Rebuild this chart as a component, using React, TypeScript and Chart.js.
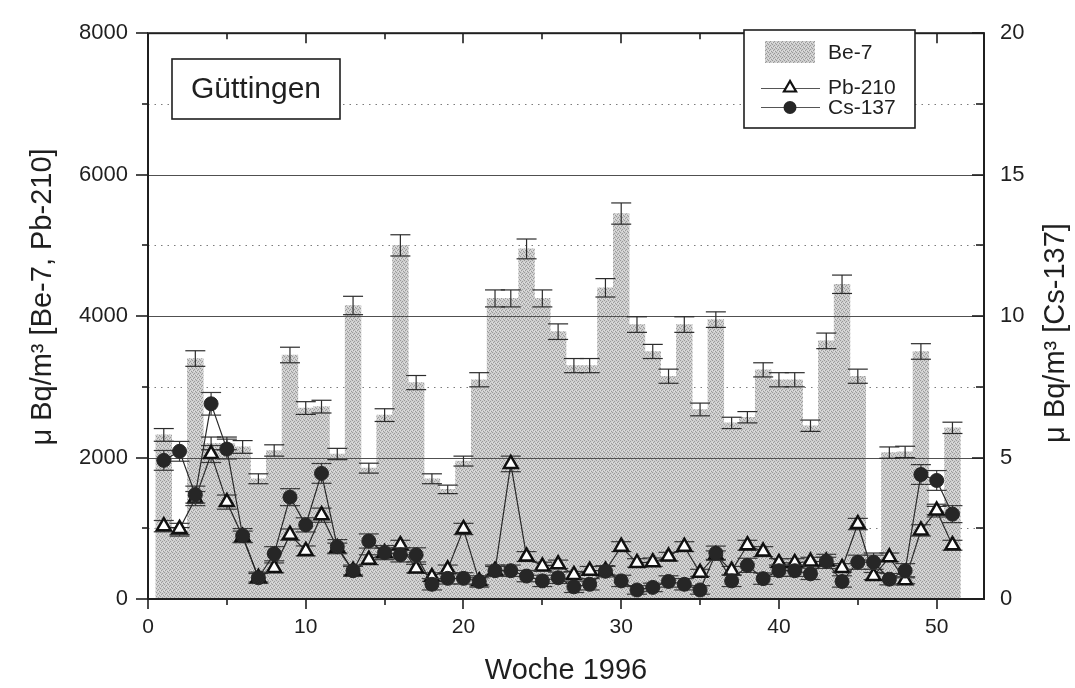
import React, { useEffect, useRef } from 'react';
import { Chart, registerables } from 'chart.js';

Chart.register(...registerables);

// ---------- data ----------
const weeks = [
  1, 2, 3, 4, 5, 6, 7, 8, 9, 10, 11, 12, 13, 14, 15, 16, 17, 18, 19, 20, 21, 22, 23, 24, 25,
  26, 27, 28, 29, 30, 31, 32, 33, 34, 35, 36, 37, 38, 39, 40, 41, 42, 43, 44, 45, 46, 47, 48, 49, 50, 51,
];

const be7 = [
  2320, 950, 3400, 2200, 2200, 2150, 1700, 2100, 3450, 2700,
  2720, 2050, 4150, 1850, 2600, 5000, 3060, 1700, 1550, 1950,
  3100, 4250, 4250, 4950, 4250, 3780, 3300, 3300, 4400, 5450,
  3880, 3500, 3150, 3880, 2680, 3950, 2490, 2570, 3240, 3100,
  3100, 2450, 3650, 4450, 3150, 600, 2070, 2080, 3500, 1250,
  2420,
];
const be7Err = [
  90, 60, 110, 90, 90, 90, 70, 80, 110, 90,
  90, 80, 130, 70, 90, 150, 100, 70, 60, 70,
  100, 120, 120, 140, 120, 110, 100, 100, 130, 150,
  110, 100, 100, 110, 90, 110, 80, 80, 100, 100,
  100, 80, 110, 130, 100, 50, 80, 80, 110, 60,
  80,
];

const pb210 = [
  1030, 990, 1420, 2050, 1370, 880, 300, 440, 910, 680,
  1185, 720, 400, 555, 650, 760, 430, 310, 420, 990,
  250, 400, 1910, 600, 460, 490, 340, 400, 400, 740,
  510, 520, 600, 740, 370, 620, 400, 760, 670, 510,
  510, 530, 530, 440, 1060, 325, 590, 265, 970, 1250,
  760,
];
const pb210Err = [
  80, 80, 100, 120, 100, 80, 60, 70, 80, 70,
  100, 70, 60, 70, 70, 70, 60, 60, 60, 80,
  50, 60, 110, 70, 60, 60, 50, 60, 60, 70,
  60, 60, 60, 70, 50, 60, 60, 70, 70, 60,
  60, 60, 60, 60, 80, 50, 60, 50, 80, 90,
  70,
];

const cs137 = [
  4.9, 5.22, 3.69, 6.9, 5.3, 2.24, 0.75, 1.6, 3.6, 2.62,
  4.44, 1.85, 1.0, 2.05, 1.64, 1.56, 1.56, 0.52, 0.73, 0.73,
  0.62, 1.0, 1.0, 0.81, 0.64, 0.75, 0.43, 0.52, 0.98, 0.64,
  0.32, 0.41, 0.62, 0.52, 0.32, 1.62, 0.64, 1.19, 0.72, 1.0,
  1.0, 0.89, 1.33, 0.62, 1.3, 1.3, 0.7, 1.0, 4.4, 4.19,
  3.0,
];
const cs137Err = [
  0.35, 0.35, 0.3, 0.4, 0.35, 0.25, 0.2, 0.25, 0.3, 0.25,
  0.35, 0.25, 0.2, 0.25, 0.25, 0.25, 0.25, 0.2, 0.2, 0.2,
  0.2, 0.2, 0.2, 0.2, 0.2, 0.2, 0.2, 0.2, 0.2, 0.2,
  0.15, 0.15, 0.2, 0.2, 0.15, 0.25, 0.2, 0.25, 0.2, 0.2,
  0.2, 0.2, 0.25, 0.2, 0.25, 0.25, 0.2, 0.25, 0.35, 0.35,
  0.3,
];

// ---------- axes / ticks ----------
const X_MIN = 0;
const X_MAX = 53;
const LEFT_MAX = 8000;
const RIGHT_MAX = 20;
const xMajorTicks = [0, 10, 20, 30, 40, 50];
const xMinorTicks = [5, 15, 25, 35, 45];
const leftMajorTicks = [0, 2000, 4000, 6000, 8000];
const leftMinorTicks = [1000, 3000, 5000, 7000];
const rightMajorTicks = [0, 5, 10, 15, 20];
const rightMinorTicks = [2.5, 7.5, 12.5, 17.5];
const solidGridValues = [2000, 4000, 6000];
const dottedGridValues = [1000, 3000, 5000, 7000];

const xTitle = 'Woche 1996';
const leftTitle = 'μ Bq/m³ [Be-7, Pb-210]';
const rightTitle = 'μ Bq/m³ [Cs-137]';
const stationName = 'Güttingen';
const legendLabels = ['Be-7', 'Pb-210', 'Cs-137'];

const FONT = '"Liberation Sans", Arial, Helvetica, sans-serif';
const INK = '#1f1f1f';

function makeStipple(): CanvasPattern | string {
  const c = document.createElement('canvas');
  c.width = 4;
  c.height = 4;
  const g = c.getContext('2d');
  if (!g) return '#c2c2c2';
  g.fillStyle = '#cecece';
  g.fillRect(0, 0, 4, 4);
  g.fillStyle = '#9a9a9a';
  [[0, 0], [2, 1], [1, 2], [3, 3]].forEach(([x, y]) => g.fillRect(x, y, 1, 1));
  g.fillStyle = '#e0e0e0';
  [[2, 3], [0, 2]].forEach(([x, y]) => g.fillRect(x, y, 1, 1));
  return g.createPattern(c, 'repeat') ?? '#c2c2c2';
}

function hline(ctx: CanvasRenderingContext2D, x1: number, x2: number, y: number) {
  ctx.beginPath();
  ctx.moveTo(x1, y);
  ctx.lineTo(x2, y);
  ctx.stroke();
}
function vline(ctx: CanvasRenderingContext2D, x: number, y1: number, y2: number) {
  ctx.beginPath();
  ctx.moveTo(x, y1);
  ctx.lineTo(x, y2);
  ctx.stroke();
}

const decorPlugin = {
  id: 'decor',
  beforeDatasetsDraw(chart: any) {
    const { ctx, chartArea: a } = chart;
    const ys = chart.scales.y;
    ctx.save();
    ctx.strokeStyle = '#7c7c7c';
    ctx.lineWidth = 1;
    ctx.setLineDash([1.5, 5]);
    for (const v of dottedGridValues) {
      const py = Math.round(ys.getPixelForValue(v)) + 0.5;
      hline(ctx, a.left, a.right, py);
    }
    ctx.restore();
  },
  afterDatasetDraw(chart: any, args: any) {
    if (args.meta.type !== 'bar') return;
    const { ctx, chartArea: a } = chart;
    const xs = chart.scales.x;
    const ys = chart.scales.y;
    ctx.save();
    ctx.strokeStyle = '#505050';
    ctx.lineWidth = 1;
    for (const v of solidGridValues) {
      const py = Math.round(ys.getPixelForValue(v)) + 0.5;
      hline(ctx, a.left, a.right, py);
    }
    ctx.strokeStyle = '#2c2c2c';
    ctx.lineWidth = 1.2;
    be7.forEach((v, i) => {
      const px = xs.getPixelForValue(weeks[i]);
      const top = ys.getPixelForValue(v + be7Err[i]);
      const bot = ys.getPixelForValue(Math.max(0, v - be7Err[i]));
      vline(ctx, px, top, bot);
      hline(ctx, px - 10, px + 10, top);
      hline(ctx, px - 10, px + 10, bot);
    });
    ctx.restore();
  },
  beforeDatasetDraw(chart: any, args: any) {
    if (args.meta.type !== 'line') return;
    const ds = chart.data.datasets[args.index];
    const errs: number[] = ds.errors || [];
    const xs = chart.scales.x;
    const ys = chart.scales[ds.yAxisID];
    const { ctx } = chart;
    ctx.save();
    ctx.strokeStyle = '#3a3a3a';
    ctx.lineWidth = 1.2;
    ds.data.forEach((p: any, i: number) => {
      const e = errs[i] || 0;
      const px = xs.getPixelForValue(p.x);
      const top = ys.getPixelForValue(p.y + e);
      const bot = ys.getPixelForValue(Math.max(0, p.y - e));
      vline(ctx, px, top, bot);
      hline(ctx, px - 10, px + 10, top);
      hline(ctx, px - 10, px + 10, bot);
    });
    ctx.restore();
  },
  afterDraw(chart: any) {
    const { ctx, chartArea: a } = chart;
    const xs = chart.scales.x;
    const ys = chart.scales.y;
    const y2 = chart.scales.y2;
    ctx.save();
    // frame
    ctx.strokeStyle = INK;
    ctx.lineWidth = 2;
    ctx.strokeRect(a.left, a.top, a.right - a.left, a.bottom - a.top);
    // ticks
    ctx.lineWidth = 1.6;
    for (const v of xMajorTicks) {
      const px = Math.round(xs.getPixelForValue(v));
      vline(ctx, px, a.bottom, a.bottom + 10);
      vline(ctx, px, a.top, a.top + 10);
    }
    for (const v of xMinorTicks) {
      const px = Math.round(xs.getPixelForValue(v));
      vline(ctx, px, a.bottom, a.bottom + 6);
      vline(ctx, px, a.top, a.top + 6);
    }
    for (const v of leftMajorTicks) {
      const py = Math.round(ys.getPixelForValue(v));
      hline(ctx, a.left - 12, a.left, py);
    }
    for (const v of leftMinorTicks) {
      const py = Math.round(ys.getPixelForValue(v));
      hline(ctx, a.left - 6, a.left, py);
    }
    for (const v of rightMajorTicks) {
      const py = Math.round(y2.getPixelForValue(v));
      hline(ctx, a.right - 12, a.right, py);
    }
    for (const v of rightMinorTicks) {
      const py = Math.round(y2.getPixelForValue(v));
      hline(ctx, a.right - 8, a.right, py);
    }

    // y titles (both read bottom-to-top)
    ctx.fillStyle = INK;
    ctx.font = `29px ${FONT}`;
    ctx.textAlign = 'center';
    ctx.textBaseline = 'middle';
    ctx.save();
    ctx.translate(43, 297);
    ctx.rotate(-Math.PI / 2);
    ctx.fillText(leftTitle, 0, 0);
    ctx.restore();
    ctx.save();
    ctx.translate(1056, 333);
    ctx.rotate(-Math.PI / 2);
    ctx.fillText(rightTitle, 0, 0);
    ctx.restore();

    // station box
    ctx.fillStyle = '#ffffff';
    ctx.fillRect(172, 59, 168, 60);
    ctx.strokeStyle = INK;
    ctx.lineWidth = 1.6;
    ctx.strokeRect(172, 59, 168, 60);
    ctx.fillStyle = INK;
    ctx.font = `30px ${FONT}`;
    ctx.fillText(stationName, 256, 90);

    // legend
    const lx = 744, ly = 30, lw = 171, lh = 98;
    ctx.fillStyle = '#ffffff';
    ctx.fillRect(lx, ly, lw, lh);
    ctx.strokeRect(lx, ly, lw, lh);
    const barDs = chart.data.datasets.find((d: any) => d.type === 'bar');
    ctx.fillStyle = barDs ? barDs.backgroundColor : '#c2c2c2';
    ctx.fillRect(765, 41, 50, 22);
    ctx.font = `21px ${FONT}`;
    ctx.textAlign = 'left';
    ctx.fillStyle = INK;
    ctx.fillText(legendLabels[0], 828, 53);
    ctx.fillText(legendLabels[1], 828, 88);
    ctx.fillText(legendLabels[2], 828, 108);
    ctx.strokeStyle = '#555';
    ctx.lineWidth = 1;
    hline(ctx, 761, 820, 88.5);
    hline(ctx, 761, 820, 107.5);
    // triangle
    const r = 7;
    ctx.beginPath();
    ctx.moveTo(790, 88 - r);
    ctx.lineTo(790 - r * 0.866, 88 + r / 2);
    ctx.lineTo(790 + r * 0.866, 88 + r / 2);
    ctx.closePath();
    ctx.fillStyle = '#ffffff';
    ctx.fill();
    ctx.strokeStyle = '#111';
    ctx.lineWidth = 2.2;
    ctx.stroke();
    // circle
    ctx.beginPath();
    ctx.arc(790, 107.5, 6.5, 0, Math.PI * 2);
    ctx.fillStyle = '#262626';
    ctx.fill();
    ctx.restore();
  },
};

export default function App() {
  const ref = useRef<HTMLCanvasElement>(null);

  useEffect(() => {
    const canvas = ref.current;
    if (!canvas) return;
    const stipple = makeStipple();

    const chart = new Chart(canvas, {
      type: 'bar',
      data: {
        datasets: [
          {
            type: 'line',
            label: legendLabels[2],
            data: weeks.map((w, i) => ({ x: w, y: cs137[i] })),
            yAxisID: 'y2',
            order: 1,
            errors: cs137Err,
            borderColor: '#2a2a2a',
            borderWidth: 1.2,
            pointStyle: 'circle',
            pointRadius: 7,
            pointBackgroundColor: '#262626',
            pointBorderColor: '#262626',
            pointBorderWidth: 1,
            tension: 0,
          } as any,
          {
            type: 'line',
            label: legendLabels[1],
            data: weeks.map((w, i) => ({ x: w, y: pb210[i] })),
            yAxisID: 'y',
            order: 2,
            errors: pb210Err,
            borderColor: '#2a2a2a',
            borderWidth: 1.2,
            pointStyle: 'triangle',
            pointRadius: 8,
            pointBackgroundColor: '#ffffff',
            pointBorderColor: '#111111',
            pointBorderWidth: 2.5,
            tension: 0,
          } as any,
          {
            type: 'bar',
            label: legendLabels[0],
            data: weeks.map((w, i) => ({ x: w, y: be7[i] })),
            yAxisID: 'y',
            order: 3,
            backgroundColor: stipple,
            borderWidth: 0,
            barPercentage: 1,
            categoryPercentage: 1,
          } as any,
        ],
      },
      options: {
        responsive: false,
        maintainAspectRatio: false,
        animation: false,
        devicePixelRatio: 1,
        layout: { padding: { top: 19, left: 0, right: 0, bottom: 0 }, autoPadding: false },
        plugins: {
          legend: { display: false },
          tooltip: { enabled: false },
          title: { display: false },
        },
        scales: {
          x: {
            type: 'linear',
            position: 'bottom',
            min: X_MIN,
            max: X_MAX,
            offset: false,
            afterFit: (s: any) => {
              s.height = 89;
            },
            afterBuildTicks: (s: any) => {
              s.ticks = xMajorTicks.map((v) => ({ value: v }));
            },
            grid: { display: false, drawTicks: false, drawOnChartArea: false },
            border: { display: false },
            ticks: {
              font: { family: FONT, size: 21 },
              color: INK,
              padding: 16,
              maxRotation: 0,
              autoSkip: false,
            },
            title: {
              display: true,
              text: xTitle,
              font: { family: FONT, size: 29 },
              color: INK,
              padding: { top: 0, bottom: 0 },
            },
          },
          y: {
            type: 'linear',
            position: 'left',
            min: 0,
            max: LEFT_MAX,
            afterFit: (s: any) => {
              s.width = 148;
            },
            afterBuildTicks: (s: any) => {
              s.ticks = leftMajorTicks.map((v) => ({ value: v }));
            },
            grid: { display: false, drawTicks: false, drawOnChartArea: false },
            border: { display: false },
            ticks: {
              font: { family: FONT, size: 22 },
              color: INK,
              padding: 20,
              callback: (v: any) => String(v),
            },
          },
          y2: {
            type: 'linear',
            position: 'right',
            min: 0,
            max: RIGHT_MAX,
            afterFit: (s: any) => {
              s.width = 91;
            },
            afterBuildTicks: (s: any) => {
              s.ticks = rightMajorTicks.map((v) => ({ value: v }));
            },
            grid: { display: false, drawTicks: false, drawOnChartArea: false },
            border: { display: false },
            ticks: {
              font: { family: FONT, size: 22 },
              color: INK,
              padding: 16,
              callback: (v: any) => String(v),
            },
          },
        },
      } as any,
      plugins: [decorPlugin],
    });

    return () => chart.destroy();
  }, []);

  return (
    <div style={{ position: 'absolute', left: 0, top: 0, width: 1075, height: 688, background: '#ffffff' }}>
      <canvas ref={ref} width={1075} height={688} style={{ display: 'block', width: 1075, height: 688 }} />
    </div>
  );
}
